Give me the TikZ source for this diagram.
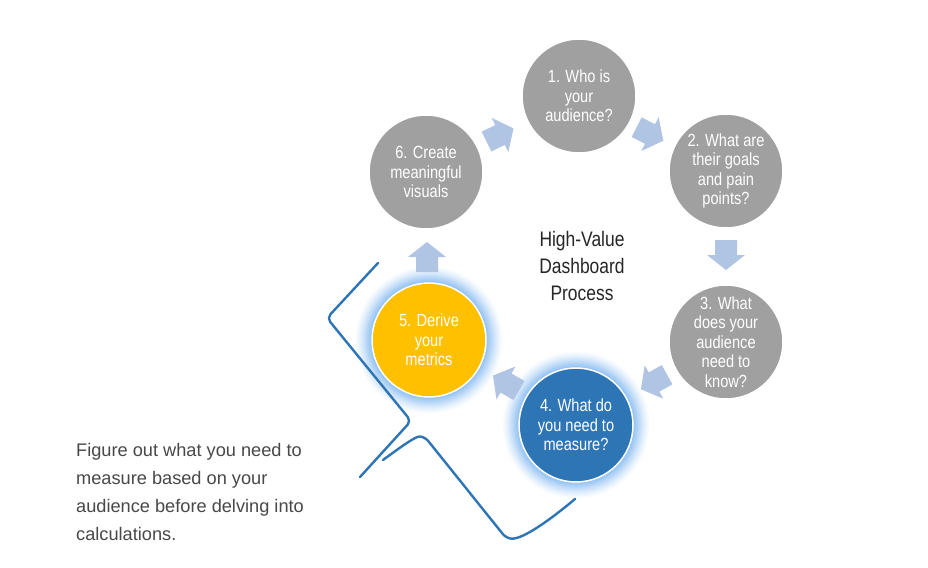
\documentclass[tikz,border=0pt]{standalone}
\usepackage{fontspec}
\setmainfont{Liberation Sans}
\newfontfamily\condfont[FakeStretch=0.83]{Liberation Sans}
\definecolor{cgray}{HTML}{A0A0A0}
\definecolor{cblue}{HTML}{2E75B6}
\definecolor{cyellow}{HTML}{FFC000}
\definecolor{carrow}{HTML}{B0C4E4}
\definecolor{glowblue}{RGB}{135,188,242}
\definecolor{linblue}{HTML}{2E75B6}
\definecolor{darktext}{HTML}{262626}
\definecolor{softtext}{HTML}{484848}
\tikzset{
  circ/.style={circle, minimum size=114pt, inner sep=0pt, draw=white, line width=1.5pt,
    text=white, align=center, font=\condfont\fontsize{17.6}{19.5}\selectfont},
  blockarrow/.style={fill=carrow, draw=none},
  bracket/.style={draw=linblue, line width=2.4pt, rounded corners=5pt, line cap=round, line join=round},
}
\newcommand{\glowat}[2]{%
  \foreach \k in {0,...,18}{%
    \pgfmathtruncatemacro{\pct}{100*(\k/18)^1.3}%
    \fill[glowblue!\pct!white] (#1,#2) circle (75pt-\k pt);
  }%
}
\newcommand{\blockarrowat}[3]{%
  \begin{scope}[shift={(#1,#2)}, rotate=#3]
    \fill[blockarrow] (-15,-11) -- (0,-11) -- (0,-19) -- (15,0) -- (0,19) -- (0,11) -- (-15,11) -- cycle;
  \end{scope}%
}
\begin{document}
\begin{tikzpicture}[x=1pt,y=-1pt]
\useasboundingbox (0,0) rectangle (928,567);
\fill[white] (0,0) rectangle (928,567);
% glows
\glowat{576}{425}
\glowat{429}{340}
% circles
\node[circ, fill=cgray] (c1) at (579,96) {1. Who is\\your\\audience?};
\node[circ, fill=cgray] (c2) at (726,171) {2. What are\\their goals\\and pain\\points?};
\node[circ, fill=cgray] (c3) at (726,342) {3. What\\does your\\audience\\need to\\know?};
\node[circ, fill=cblue] (c4) at (576,425) {4. What do\\you need to\\measure?};
\node[circ, fill=cyellow] (c5) at (429,340) {5. Derive\\your\\metrics};
\node[circ, fill=cgray] (c6) at (426,172) {6. Create\\meaningful\\visuals};
% block arrows
\blockarrowat{500}{135}{26}
\blockarrowat{650}{134}{-27}
\blockarrowat{726}{255}{-90}
\blockarrowat{654}{382}{-151}
\blockarrowat{506}{383}{150}
\blockarrowat{427}{257}{90}
% center title
\node[align=center, text=darktext, font=\condfont\fontsize{21}{27}\selectfont] (title) at (582,266) {High-Value\\Dashboard\\Process};
% bracket lines
\draw[bracket] (378,263) -- (327,318) -- (411,421) -- (360,477);
\draw[bracket] (383,460) .. controls (402,446) and (416,436) .. (425,437) -- (506,538) .. controls (522,540) and (550,520) .. (575,499);
% side note
\node[anchor=north west, align=left, text=softtext, inner sep=0pt, font=\fontsize{18.2}{28}\selectfont] (note) at (76,443) {Figure out what you need to\\measure based on your\\audience before delving into\\calculations.};
\end{tikzpicture}
\end{document}
